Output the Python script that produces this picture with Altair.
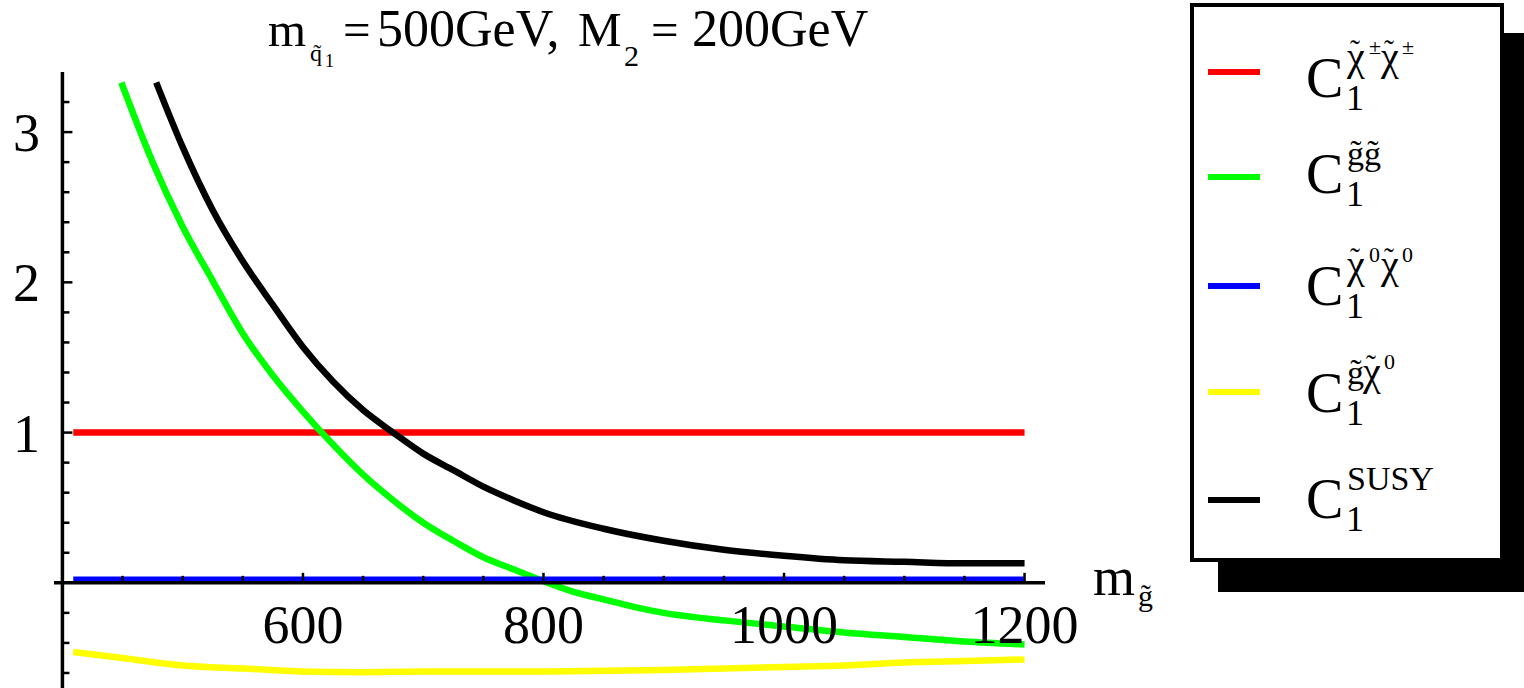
import altair as alt
import pandas as pd

# ---------------- data ----------------
red_x = [409, 1200]
red_y = [1.0, 1.0]

green_x = [449, 475, 500, 525, 550, 575, 600, 625, 650, 675, 700, 725, 750, 775,
           800, 825, 850, 875, 900, 950, 1000, 1050, 1100, 1150, 1200]
green_y = [3.33, 2.80, 2.37, 2.01, 1.66, 1.38, 1.14, 0.92, 0.72, 0.55, 0.40, 0.28,
           0.17, 0.09, 0.01, -0.06, -0.11, -0.16, -0.20, -0.25, -0.29, -0.33,
           -0.36, -0.39, -0.41]

blue_x = [409, 1200]
blue_y = [0.02, 0.02]

yellow_x = [409, 450, 500, 550, 600, 650, 700, 750, 800, 850, 900, 950, 1000,
            1050, 1100, 1150, 1200]
yellow_y = [-0.46, -0.50, -0.55, -0.57, -0.59, -0.595, -0.59, -0.59, -0.59,
            -0.585, -0.58, -0.57, -0.56, -0.55, -0.53, -0.52, -0.51]

black_x = [478, 500, 525, 550, 575, 600, 625, 650, 675, 700, 725, 750, 775, 800,
           850, 900, 950, 1000, 1050, 1100, 1150, 1200]
black_y = [3.33, 2.90, 2.48, 2.14, 1.85, 1.57, 1.34, 1.15, 1.00, 0.86, 0.75, 0.64,
           0.55, 0.47, 0.36, 0.28, 0.22, 0.18, 0.15, 0.14, 0.13, 0.13]

x_major = [600, 800, 1000, 1200]
x_major_labels = ["600", "800", "1000", "1200"]
x_minor = [450, 500, 550, 650, 700, 750, 850, 900, 950, 1050, 1100, 1150]
y_major = [1, 2, 3]
y_major_labels = ["1", "2", "3"]
y_minor = [-0.6, -0.4, -0.2, 0.2, 0.4, 0.6, 0.8, 1.2, 1.4, 1.6, 1.8,
           2.2, 2.4, 2.6, 2.8, 3.2]

series_colors = ["#ff0000", "#00ff00", "#0000ff", "#ffff00", "#000000"]

# ---------------- layout ----------------
OX, OY = 54, 72
W, H = 991, 616
FONT = "Liberation Serif"
xs = alt.Scale(domain=[393, 1217], nice=False, zero=False)
ys = alt.Scale(domain=[-0.7, 3.4], nice=False, zero=False)


def series(xv, yv, color):
    df = pd.DataFrame({"x": xv, "y": yv})
    return alt.Chart(df).mark_line(color=color, strokeWidth=6.5, strokeCap="butt",
                                   interpolate="monotone", clip=True).encode(
        x=alt.X("x:Q", scale=xs, axis=None),
        y=alt.Y("y:Q", scale=ys, axis=None))


def text_layer(rows, font=FONT):
    df = pd.DataFrame({"t": [r[0] for r in rows], "px": [r[1] - OX for r in rows],
                       "py": [r[2] - OY for r in rows], "fs": [r[3] for r in rows]})
    return alt.Chart(df).mark_text(font=font, align="left", baseline="alphabetic",
                                   color="black").encode(
        x=alt.X("px:Q", scale=None, axis=None),
        y=alt.Y("py:Q", scale=None, axis=None),
        size=alt.Size("fs:Q", scale=None, legend=None),
        text="t:N")


layers = []
# legend shadow and box
shadow = pd.DataFrame({"x1": [1218 - OX], "x2": [1524 - OX], "y1": [33 - OY], "y2": [592 - OY]})
layers.append(alt.Chart(shadow).mark_rect(color="black").encode(
    x=alt.X("x1:Q", scale=None, axis=None), x2="x2:Q",
    y=alt.Y("y1:Q", scale=None, axis=None), y2="y2:Q"))
box = pd.DataFrame({"x1": [1192 - OX], "x2": [1502 - OX], "y1": [5 - OY], "y2": [560 - OY]})
layers.append(alt.Chart(box).mark_rect(fill="white", stroke="black", strokeWidth=4).encode(
    x=alt.X("x1:Q", scale=None, axis=None), x2="x2:Q",
    y=alt.Y("y1:Q", scale=None, axis=None), y2="y2:Q"))

legend_y = [72, 177, 286, 392, 500]
sw = pd.DataFrame({"x1": [1208 - OX] * 5, "x2": [1260 - OX] * 5,
                   "y": [v - OY for v in legend_y], "c": series_colors})
layers.append(alt.Chart(sw).mark_rule(strokeWidth=6).encode(
    x=alt.X("x1:Q", scale=None, axis=None), x2="x2:Q",
    y=alt.Y("y:Q", scale=None, axis=None),
    color=alt.Color("c:N", scale=None)))

# legend texts: C_1^{...}; level 0 = superscript, 1 = second-level, 2 = tilde, 3 = greek chi
c_base = [97, 193, 305, 412, 518]
sup_parts = [
    [("χ", 1347, 3), ("˜", 1350, 2), ("±", 1369, 1), ("χ", 1381, 3), ("˜", 1384, 2), ("±", 1402, 1)],
    [("g̃g̃", 1347, 0)],
    [("χ", 1347, 3), ("˜", 1350, 2), ("0", 1369, 1), ("χ", 1381, 3), ("˜", 1384, 2), ("0", 1402, 1)],
    [("g̃", 1347, 0), ("χ", 1363, 3), ("˜", 1366, 2), ("0", 1384, 1)],
    [("SUSY", 1347, 0)],
]
rows = []
for i, cb in enumerate(c_base):
    rows.append(("C", 1306, cb, 56))
    rows.append(("1", 1346, cb + 13, 36))
    for txt, px, lvl in sup_parts[i]:
        if lvl == 0:
            rows.append((txt, px, cb - 28, 34))
        elif lvl == 1:
            rows.append((txt, px, cb - 43, 22))
        elif lvl == 2:
            rows.append((txt, px, cb - 37, 30))
        else:
            rows.append((txt, px, cb - 27, 40))

# title pieces
title_parts = [("m", 268, 46, 49), ("q̃", 310, 61, 24), ("1", 325, 67, 18),
               ("=", 343, 46, 49), ("500GeV,", 377, 46, 52), ("M", 578, 46, 49),
               ("2", 624, 66, 30), ("=", 651, 46, 49), ("200GeV", 692, 46, 52)]
rows += title_parts
# axis label m_g~
rows += [("m", 1093, 595, 54), ("g̃", 1138, 606, 30)]
layers.append(text_layer(rows))

# curves (drawing order as in reference)
layers.append(series(red_x, red_y, series_colors[0]))
layers.append(series(green_x, green_y, series_colors[1]))
layers.append(series(blue_x, blue_y, series_colors[2]))
layers.append(series(yellow_x, yellow_y, series_colors[3]))
layers.append(series(black_x, black_y, series_colors[4]))

# axes lines
yax = pd.DataFrame({"x": [400], "y": [-0.7], "y2": [3.4]})
layers.append(alt.Chart(yax).mark_rule(color="black", strokeWidth=3.5).encode(
    x=alt.X("x:Q", scale=xs, axis=None), y=alt.Y("y:Q", scale=ys, axis=None), y2="y2:Q"))
xax = pd.DataFrame({"x": [393], "x2": [1217], "y": [0]})
layers.append(alt.Chart(xax).mark_rule(color="black", strokeWidth=3.5).encode(
    x=alt.X("x:Q", scale=xs, axis=None), x2="x2:Q", y=alt.Y("y:Q", scale=ys, axis=None)))

# y ticks
for vals, ln in ((y_major, 10), (y_minor, 7)):
    d = pd.DataFrame({"v": vals, "x": [400] * len(vals)})
    layers.append(alt.Chart(d).mark_rule(color="black", strokeWidth=2.5, x2Offset=ln).encode(
        x=alt.X("x:Q", scale=xs, axis=None), x2="x:Q",
        y=alt.Y("v:Q", scale=ys, axis=None)))
# x ticks
for vals, ln in ((x_major, 10), (x_minor, 7)):
    d = pd.DataFrame({"v": vals, "y": [0] * len(vals)})
    layers.append(alt.Chart(d).mark_rule(color="black", strokeWidth=2.5, y2Offset=-ln).encode(
        x=alt.X("v:Q", scale=xs, axis=None),
        y=alt.Y("y:Q", scale=ys, axis=None), y2="y:Q"))

# tick labels
xl = pd.DataFrame({"v": x_major, "y": [0] * 4, "t": x_major_labels})
layers.append(alt.Chart(xl).mark_text(font=FONT, fontSize=54, align="center",
                                      baseline="alphabetic", dy=60, color="black").encode(
    x=alt.X("v:Q", scale=xs, axis=None), y=alt.Y("y:Q", scale=ys, axis=None), text="t:N"))
yl = pd.DataFrame({"v": y_major, "x": [400] * 3, "t": y_major_labels})
layers.append(alt.Chart(yl).mark_text(font=FONT, fontSize=54, align="center",
                                      baseline="middle", dx=-36, dy=3, color="black").encode(
    x=alt.X("x:Q", scale=xs, axis=None), y=alt.Y("v:Q", scale=ys, axis=None), text="t:N"))

chart = alt.layer(*layers).properties(
    width=W, height=H,
    padding={"left": OX, "top": OY, "right": 1524 - OX - W, "bottom": 688 - OY - H},
    autosize=alt.AutoSizeParams(type="none"),
    background="white",
).configure_view(stroke=None)

chart.save("out.html", embed_options={"renderer": "svg", "actions": False})
